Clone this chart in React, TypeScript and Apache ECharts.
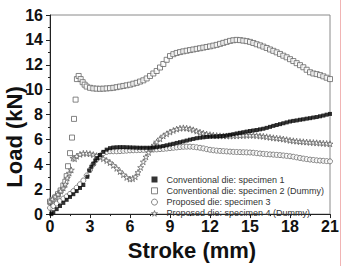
import React, { useEffect, useRef } from "react";
import * as echarts from "echarts";

const seriesNames = [
  "Conventional die: specimen 1",
  "Conventional die: specimen 2 (Dummy)",
  "Proposed die: specimen 3",
  "Proposed die: specimen 4 (Dummy)",
];

const xTicks = { min: 0, max: 21, interval: 3 };
const yTicks = { min: 0, max: 16, interval: 2 };

const spec1: [number, number][] = [
  [0.1, 0.0], [0.25, 0.15], [0.5, 0.4], [0.75, 0.65], [1.0, 0.9], [1.25, 1.15], [1.5, 1.38], [1.75, 1.6],
  [2.0, 1.85], [2.25, 2.1], [2.5, 2.34], [2.8, 3.0], [2.95, 3.5], [3.1, 3.8], [3.25, 4.05], [3.4, 4.3],
  [3.55, 4.5], [3.75, 4.75], [4.0, 5.0], [4.25, 5.18], [4.5, 5.3], [4.75, 5.35], [5.0, 5.37], [5.25, 5.38],
  [5.5, 5.38], [5.75, 5.37], [6.0, 5.36], [6.25, 5.35], [6.5, 5.34], [6.75, 5.33], [7.0, 5.33], [7.25, 5.33],
  [7.5, 5.33], [7.75, 5.35], [8.0, 5.38], [8.25, 5.42], [8.5, 5.47], [8.75, 5.53], [9.0, 5.59], [9.25, 5.65],
  [9.5, 5.72], [9.75, 5.78], [10.0, 5.84], [10.25, 5.91], [10.5, 5.98], [10.75, 6.04], [11.0, 6.1], [11.25, 6.14],
  [11.5, 6.17], [11.75, 6.2], [12.0, 6.22], [12.25, 6.23], [12.5, 6.24], [12.75, 6.26], [13.0, 6.28], [13.25, 6.32],
  [13.5, 6.37], [13.75, 6.42], [14.0, 6.48], [14.25, 6.53], [14.5, 6.58], [14.75, 6.63], [15.0, 6.68], [15.25, 6.72],
  [15.5, 6.76], [15.75, 6.81], [16.0, 6.86], [16.25, 6.93], [16.5, 7.01], [16.75, 7.09], [17.0, 7.16], [17.25, 7.23],
  [17.5, 7.3], [17.75, 7.37], [18.0, 7.44], [18.25, 7.49], [18.5, 7.53], [18.75, 7.58], [19.0, 7.62], [19.25, 7.67],
  [19.5, 7.71], [19.75, 7.76], [20.0, 7.8], [20.25, 7.86], [20.5, 7.92], [20.75, 7.99], [21.0, 8.05],
];

const spec2: [number, number][] = [
  [0.0, 1.0], [0.2, 1.15], [0.4, 1.35], [0.6, 1.6], [0.8, 1.9], [1.0, 2.3], [1.15, 2.6], [1.25, 3.05],
  [1.35, 3.85], [1.5, 4.9], [1.65, 6.15], [1.8, 7.65], [1.92, 9.2], [2.02, 10.85], [2.15, 11.1], [2.3, 10.85],
  [2.45, 10.6], [2.6, 10.4], [2.75, 10.25], [3.0, 10.15], [3.25, 10.1], [3.5, 10.08], [3.75, 10.07], [4.0, 10.08],
  [4.25, 10.1], [4.5, 10.12], [4.75, 10.15], [5.0, 10.2], [5.25, 10.25], [5.5, 10.3], [5.75, 10.35], [6.0, 10.4],
  [6.25, 10.48], [6.5, 10.55], [6.75, 10.65], [7.0, 10.75], [7.25, 10.9], [7.5, 11.1], [7.75, 11.3], [8.0, 11.5],
  [8.25, 11.78], [8.5, 12.06], [8.75, 12.4], [9.0, 12.7], [9.25, 12.85], [9.5, 12.95], [9.75, 13.02], [10.0, 13.08],
  [10.25, 13.13], [10.5, 13.18], [10.75, 13.23], [11.0, 13.28], [11.25, 13.33], [11.5, 13.38], [11.75, 13.43], [12.0, 13.48],
  [12.25, 13.54], [12.5, 13.6], [12.75, 13.68], [13.0, 13.76], [13.25, 13.84], [13.5, 13.92], [13.75, 13.97], [14.0, 14.0],
  [14.25, 13.98], [14.5, 13.94], [14.75, 13.9], [15.0, 13.84], [15.25, 13.75], [15.5, 13.65], [15.75, 13.56], [16.0, 13.46],
  [16.25, 13.35], [16.5, 13.23], [16.75, 13.12], [17.0, 13.0], [17.25, 12.87], [17.5, 12.73], [17.75, 12.6], [18.0, 12.45],
  [18.25, 12.3], [18.5, 12.13], [18.75, 11.97], [19.0, 11.8], [19.25, 11.6], [19.5, 11.4], [19.75, 11.3], [20.0, 11.25],
  [20.25, 11.17], [20.5, 11.07], [20.75, 10.96], [21.0, 10.85],
];

const spec3: [number, number][] = [
  [0.0, 0.5], [0.25, 0.65], [0.5, 0.85], [0.75, 1.05], [1.0, 1.25], [1.25, 1.42], [1.5, 1.62], [1.75, 1.85],
  [2.0, 2.12], [2.25, 2.4], [2.5, 2.7], [2.75, 3.1], [3.0, 3.55], [3.25, 4.0], [3.5, 4.4], [3.75, 4.7],
  [4.0, 4.9], [4.25, 5.0], [4.5, 5.05], [4.75, 5.05], [5.0, 5.05], [5.25, 5.06], [5.5, 5.08], [5.75, 5.1],
  [6.0, 5.12], [6.25, 5.13], [6.5, 5.14], [6.75, 5.15], [7.0, 5.16], [7.25, 5.17], [7.5, 5.18], [7.75, 5.19],
  [8.0, 5.2], [8.25, 5.22], [8.5, 5.24], [8.75, 5.27], [9.0, 5.3], [9.25, 5.33], [9.5, 5.36], [9.75, 5.39],
  [10.0, 5.41], [10.25, 5.42], [10.5, 5.42], [10.75, 5.4], [11.0, 5.37], [11.25, 5.33], [11.5, 5.28], [11.75, 5.22],
  [12.0, 5.17], [12.25, 5.13], [12.5, 5.1], [12.75, 5.08], [13.0, 5.06], [13.25, 5.04], [13.5, 5.02], [13.75, 5.0],
  [14.0, 4.99], [14.25, 4.98], [14.5, 4.97], [14.75, 4.96], [15.0, 4.95], [15.25, 4.93], [15.5, 4.9], [15.75, 4.87],
  [16.0, 4.84], [16.25, 4.82], [16.5, 4.8], [16.75, 4.78], [17.0, 4.76], [17.25, 4.74], [17.5, 4.71], [17.75, 4.68],
  [18.0, 4.65], [18.25, 4.61], [18.5, 4.56], [18.75, 4.51], [19.0, 4.46], [19.25, 4.42], [19.5, 4.38], [19.75, 4.35],
  [20.0, 4.32], [20.25, 4.3], [20.5, 4.28], [20.75, 4.26], [21.0, 4.24],
];

const spec4: [number, number][] = [
  [0.0, 1.0], [0.2, 1.2], [0.4, 1.4], [0.6, 1.6], [0.8, 1.85], [1.0, 2.1], [1.15, 2.4], [1.3, 2.9],
  [1.45, 3.3], [1.6, 3.55], [1.72, 4.5], [1.85, 4.45], [2.0, 4.65], [2.25, 4.8], [2.5, 4.88], [2.75, 4.88],
  [3.0, 4.85], [3.25, 4.78], [3.5, 4.7], [3.75, 4.58], [4.0, 4.45], [4.25, 4.3], [4.5, 4.14], [4.75, 3.92],
  [5.0, 3.68], [5.25, 3.42], [5.5, 3.17], [5.75, 2.95], [6.0, 2.82], [6.2, 2.85], [6.4, 3.0], [6.6, 3.35],
  [6.8, 3.75], [7.0, 4.2], [7.2, 4.6], [7.4, 4.95], [7.6, 5.25], [7.8, 5.55], [8.0, 5.8], [8.25, 6.05],
  [8.5, 6.28], [8.75, 6.45], [9.0, 6.6], [9.25, 6.72], [9.5, 6.83], [9.75, 6.9], [10.0, 6.93], [10.25, 6.9],
  [10.5, 6.85], [10.75, 6.77], [11.0, 6.67], [11.25, 6.58], [11.5, 6.5], [11.75, 6.43], [12.0, 6.38], [12.25, 6.34],
  [12.5, 6.31], [12.75, 6.29], [13.0, 6.28], [13.25, 6.28], [13.5, 6.28], [13.75, 6.29], [14.0, 6.3], [14.25, 6.31],
  [14.5, 6.32], [14.75, 6.33], [15.0, 6.34], [15.25, 6.33], [15.5, 6.31], [15.75, 6.28], [16.0, 6.25], [16.25, 6.21],
  [16.5, 6.17], [16.75, 6.13], [17.0, 6.1], [17.25, 6.07], [17.5, 6.03], [17.75, 5.98], [18.0, 5.93], [18.25, 5.89],
  [18.5, 5.86], [18.75, 5.83], [19.0, 5.81], [19.25, 5.79], [19.5, 5.77], [19.75, 5.75], [20.0, 5.73], [20.25, 5.71],
  [20.5, 5.69], [20.75, 5.67], [21.0, 5.65],
];

const STAR = "path://M50,0 L61,35 L98,35 L68,57 L79,91 L50,70 L21,91 L32,57 L2,35 L39,35 Z";
const GRAY = "#666";
const FONT = "Arial, 'Liberation Sans', sans-serif";

export default function App() {
  const ref = useRef<HTMLDivElement>(null);
  useEffect(() => {
    if (!ref.current) return;
    const chart = echarts.init(ref.current, null, { renderer: "svg" });
    const hollow = { color: "#fff", borderColor: GRAY, borderWidth: 1 };
    chart.setOption({
      animation: false,
      backgroundColor: "#fff",
      grid: { left: 50, top: 15, width: 280, height: 210, show: true, borderColor: "#8a8a8a", borderWidth: 1, backgroundColor: "transparent" },
      legend: {
        orient: "vertical",
        left: 151,
        top: 174,
        padding: 0,
        itemWidth: 6,
        itemHeight: 6,
        itemGap: 0.3,
        textStyle: { fontSize: 9, lineHeight: 11, fontFamily: FONT, color: "#333", padding: [0, 0, 0, 4] },
        data: [
          { name: seriesNames[0], icon: "rect", itemStyle: { color: "#000" } },
          { name: seriesNames[1], icon: "rect", itemStyle: hollow },
          { name: seriesNames[2], icon: "circle", itemStyle: hollow },
          { name: seriesNames[3], icon: STAR, itemStyle: hollow },
        ],
      },
      xAxis: {
        type: "value",
        min: xTicks.min,
        max: xTicks.max,
        interval: xTicks.interval,
        name: "Stroke (mm)",
        nameLocation: "middle",
        nameGap: 17,
        nameTextStyle: { fontSize: 22, fontWeight: "bold", fontFamily: FONT, color: "#111", padding: [0, 0, 0, 4] },
        axisLine: { lineStyle: { color: "#222", width: 1 } },
        axisTick: { show: true, inside: false, length: 4, lineStyle: { color: "#222" } },
        minorTick: { show: true, splitNumber: 2, length: 2, lineStyle: { color: "#222" } },
        splitLine: { show: false },
        axisLabel: { fontSize: 16, fontWeight: "bold", fontFamily: FONT, color: "#111", margin: 4 },
      },
      yAxis: {
        type: "value",
        min: yTicks.min,
        max: yTicks.max,
        interval: yTicks.interval,
        axisLine: { show: true, lineStyle: { color: "#222", width: 1 } },
        axisTick: { show: true, inside: false, length: 4, lineStyle: { color: "#222" } },
        minorTick: { show: true, splitNumber: 2, length: 2, lineStyle: { color: "#222" } },
        splitLine: { show: false },
        axisLabel: { fontSize: 16, fontWeight: "bold", fontFamily: FONT, color: "#111", margin: 7 },
      },
      graphic: [
        {
          type: "text",
          x: 14,
          y: 137,
          rotation: Math.PI / 2,
          style: { text: "Load (kN)", fontSize: 22, fontWeight: "bold", fontFamily: FONT, fill: "#111", align: "center", verticalAlign: "middle" },
        },
        { type: "line", shape: { x1: 340.5, y1: 0, x2: 340.5, y2: 266 }, style: { stroke: "#f1b4b4", lineWidth: 1 } },
      ],
      series: [
        { name: seriesNames[0], type: "scatter", z: 4, symbol: "rect", symbolSize: 4, itemStyle: { color: "#000" }, data: spec1 },
        { name: seriesNames[1], type: "scatter", z: 2, symbol: "rect", symbolSize: 5, itemStyle: hollow, data: spec2 },
        { name: seriesNames[2], type: "scatter", z: 2, symbol: "circle", symbolSize: 5, itemStyle: hollow, data: spec3 },
        { name: seriesNames[3], type: "scatter", z: 3, symbol: STAR, symbolSize: 6, itemStyle: hollow, data: spec4 },
      ],
    });
    return () => chart.dispose();
  }, []);
  return <div ref={ref} style={{ position: "fixed", left: 0, top: 0, width: 343, height: 266 }} />;
}
